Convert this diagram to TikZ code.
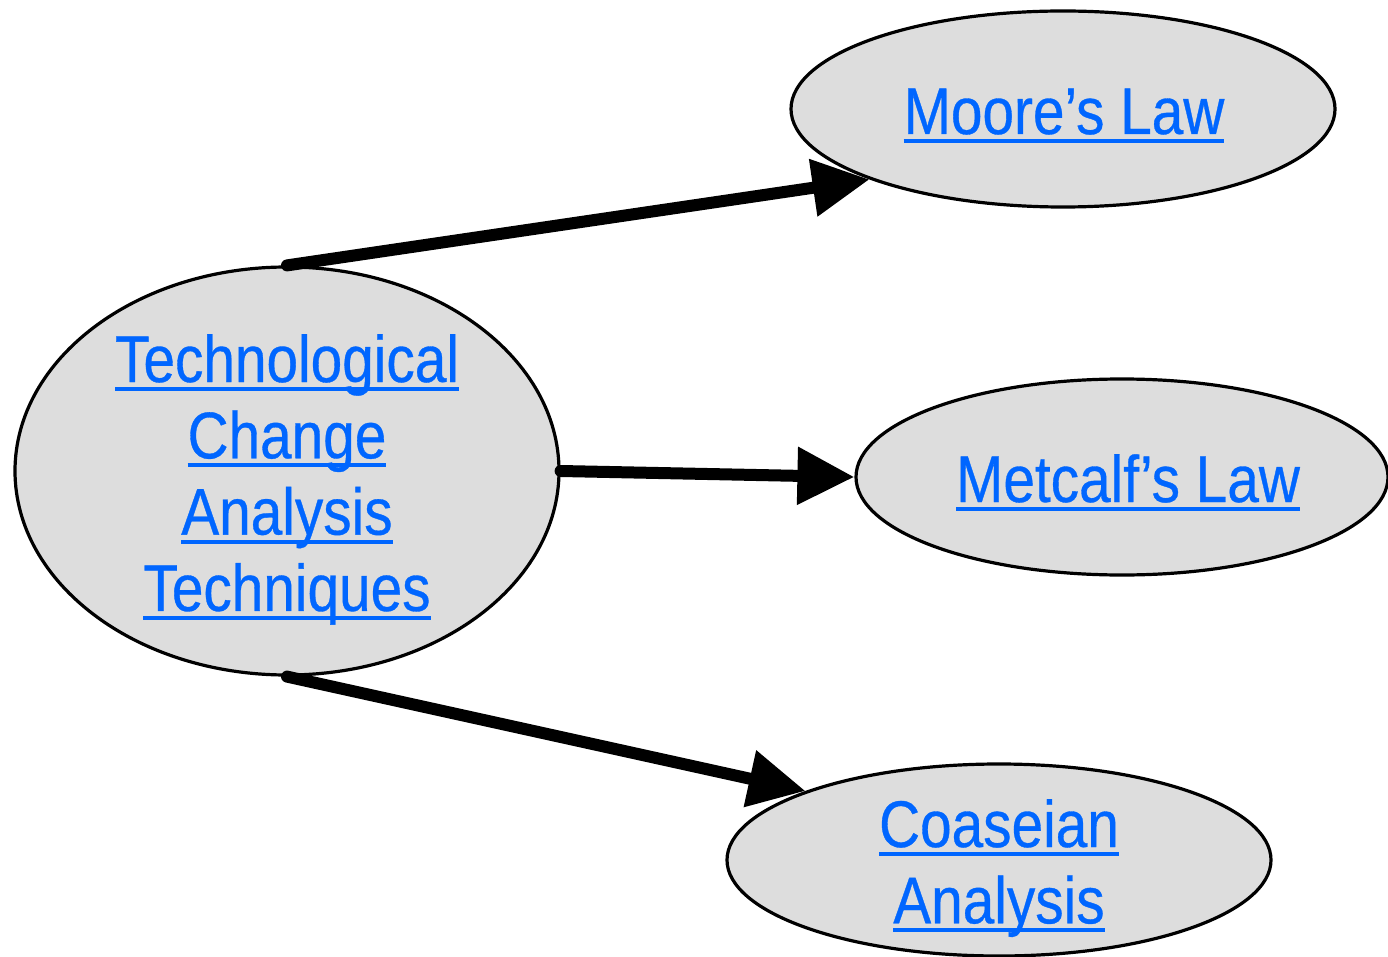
\documentclass[tikz,border=0pt]{standalone}
\usepackage{fontspec}
\setmainfont{Liberation Sans}[FakeStretch=0.86,FakeBold=0.5]
\usetikzlibrary{arrows.meta,shapes.geometric}
\definecolor{linkblue}{HTML}{0066FF}
\definecolor{bubblegray}{HTML}{DDDDDD}
% underlined hyperlink-style text: a rule of the box width under the baseline
\newcommand\lnk[1]{\setbox0\hbox{#1}\rlap{\rule[-9pt]{\wd0}{4pt}}\box0}
\begin{document}
\begin{tikzpicture}[x=1pt,y=-1pt,
  bubble/.style={ellipse,draw=black,line width=3.2pt,fill=bubblegray,inner sep=0pt},
  lbl/.style={inner sep=0pt,text=linkblue,font=\fontsize{66}{76.3}\selectfont,anchor=base},
  link/.style={line width=12pt,line cap=round,-{Triangle[length=57pt,width=55pt]}}]
\useasboundingbox (0,0) rectangle (1388,957);

% ellipses
\node[bubble,minimum width=544pt,minimum height=408pt] (main) at (287,471) {};
\node[bubble,minimum width=544pt,minimum height=196pt] (moore) at (1063,109) {};
\node[bubble,minimum width=532pt,minimum height=196pt] (metcalf) at (1122,477) {};
\node[bubble,minimum width=544pt,minimum height=192pt] (coase) at (999,860) {};

% labels
\node[lbl] (mainT) at (287,382) {\begin{tabular}[t]{@{}c@{}}\lnk{Technological}\\\lnk{Change}\\\lnk{Analysis}\\\lnk{Techniques}\end{tabular}};
\node[lbl] (mooreT) at (1064,134) {\lnk{Moore’s Law}};
\node[lbl] (metcalfT) at (1128,502) {\lnk{Metcalf’s Law}};
\node[lbl] (coaseT) at (999,847) {\begin{tabular}[t]{@{}c@{}}\lnk{Coaseian}\\\lnk{Analysis}\end{tabular}};

% connectors
\draw[link] (main.north) -- (moore.south west);
\draw[link] (main.east) -- (metcalf.west);
\draw[link] (main.south) -- (coase.north west);
\end{tikzpicture}
\end{document}
